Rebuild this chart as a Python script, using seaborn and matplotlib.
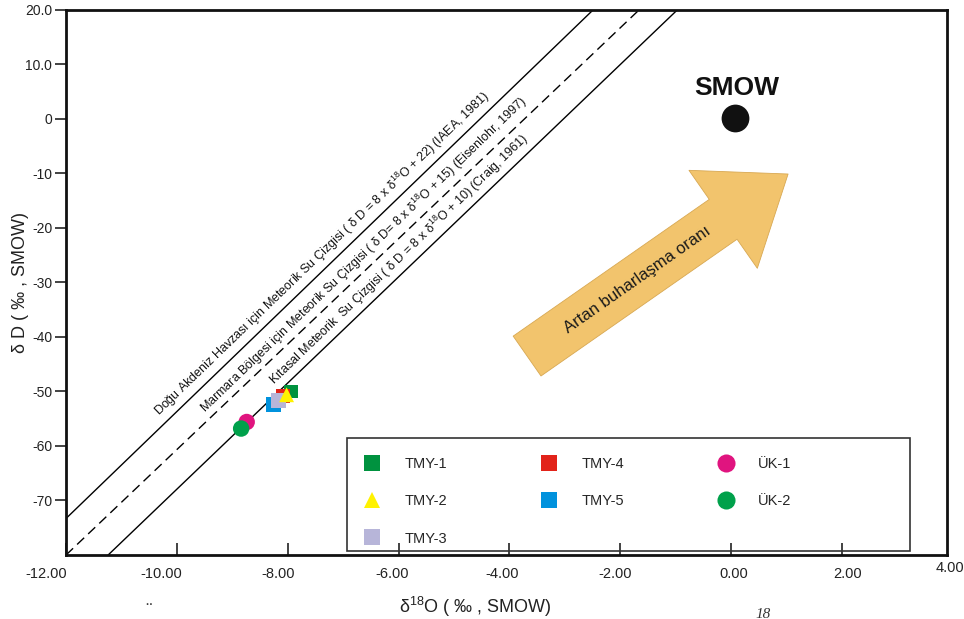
import numpy as np
import pandas as pd
import matplotlib
matplotlib.use("Agg")
import matplotlib.pyplot as plt
from matplotlib.patches import FancyArrowPatch, Rectangle
from matplotlib.transforms import ScaledTranslation
import seaborn as sns

# Örnekler (δ18O, δD)
ornekler = ["TMY-1", "TMY-2", "TMY-3", "TMY-4", "TMY-5", "ÜK-1", "ÜK-2"]
d18o = [-7.94, -8.02, -8.16, -8.08, -8.25, -8.74, -8.84]
dd = [-50.0, -50.6, -51.7, -50.8, -52.4, -55.6, -56.8]
renkler = ["#00923f", "#fff200", "#b7b5d9", "#e2231a", "#0092dd", "#e0147f", "#00a14b"]
isaretler = ["s", "^", "s", "s", "s", "o", "o"]
boyutlar = [100, 115, 115, 100, 115, 140, 140]
cizim_sirasi = ["ÜK-1", "ÜK-2", "TMY-1", "TMY-4", "TMY-5", "TMY-3", "TMY-2"]

smow_x = [0.08]
smow_y = [0.2]

# Meteorik su çizgileri (uç noktalar)
akdeniz_x = [-12.0, -2.49]
akdeniz_y = [-73.3, 20.0]
marmara_x = [-12.0, -1.66]
marmara_y = [-80.0, 20.0]
kitasal_x = [-11.24, -0.97]
kitasal_y = [-80.0, 20.0]

x_ticks = [-12, -10, -8, -6, -4, -2, 0, 2]
x_tick_labels = ["-12.00", "-10.00", "-8.00", "-6.00", "-4.00", "-2.00", "0.00", "2.00"]
y_ticks = [20, 10, 0, -10, -20, -30, -40, -50, -60, -70]
y_tick_labels = ["20.0", "10.0", "0", "-10", "-20", "-30", "-40", "-50", "-60", "-70"]

sns.set_theme(style="white")
plt.rcParams["font.family"] = ["Liberation Sans", "DejaVu Sans"]
plt.rcParams["mathtext.fontset"] = "custom"
plt.rcParams["mathtext.rm"] = "Liberation Sans"
plt.rcParams["mathtext.it"] = "Liberation Sans:italic"
plt.rcParams["mathtext.bf"] = "Liberation Sans:bold"
dar = ["Liberation Sans Narrow", "Liberation Sans", "DejaVu Sans"]

fig = plt.figure(figsize=(9.64, 6.19), dpi=100)
ax = fig.add_axes([0.0685, 0.1034, 0.914, 0.8805])

# Çizgiler
sns.lineplot(x=akdeniz_x, y=akdeniz_y, color="black", linewidth=1.0, ax=ax, legend=False)
sns.lineplot(x=marmara_x, y=marmara_y, color="black", linewidth=1.0, linestyle=(0, (7, 4)), ax=ax, legend=False)
sns.lineplot(x=kitasal_x, y=kitasal_y, color="black", linewidth=1.0, ax=ax, legend=False)

# Çizgi etiketleri
etiketler = [
    ("Doğu Akdeniz Havzası için Meteorik Su Çizgisi ( δ D = 8 x δ$^{18}$O + 22) (IAEA, 1981)", akdeniz_x, akdeniz_y, -7.22),
    ("Marmara Bölgesi için Meteorik Su Çizgisi ( δ D= 8 x δ$^{18}$O + 15) (Eisenlohr, 1997)", marmara_x, marmara_y, -6.47),
    ("Kıtasal Meteorik  Su Çizgisi ( δ D = 8 x δ$^{18}$O + 10) (Craig, 1961)", kitasal_x, kitasal_y, -5.83),
]
for metin, lx, ly, xm in etiketler:
    ym = np.interp(xm, lx, ly)
    ax.annotate(metin, xy=(xm, ym), xytext=(-1.6, 1.6), textcoords="offset points",
                rotation=44, rotation_mode="anchor", ha="center", va="bottom",
                fontsize=9, color="#151515")

# Buharlaşma oku
ok = FancyArrowPatch((-3.68, -43.5), (1.03, -10.1),
                     arrowstyle="simple,head_length=57,head_width=86,tail_width=35",
                     mutation_scale=1, shrinkA=0, shrinkB=0,
                     facecolor="#f2c46d", edgecolor="#d8a852", linewidth=0.6, zorder=2)
ax.add_patch(ok)
ax.text(-1.69, -29.4, "Artan buharlaşma oranı", rotation=35, rotation_mode="anchor",
        ha="center", va="center", fontsize=12, color="#1a1a1a", zorder=3)

# SMOW
sns.scatterplot(x=smow_x, y=smow_y, color="#111111", s=400, linewidth=0, ax=ax, legend=False, zorder=4)
ax.text(0.11, 5.7, "SMOW", ha="center", va="center", fontsize=19, fontweight="bold", color="#111111")

# Örnek noktaları
df = pd.DataFrame({"Örnek": ornekler, "d18O": d18o, "dD": dd})
df = df.set_index("Örnek").loc[cizim_sirasi].reset_index()
sns.scatterplot(data=df, x="d18O", y="dD", hue="Örnek", style="Örnek", size="Örnek",
                hue_order=ornekler, style_order=ornekler, size_order=ornekler,
                palette=dict(zip(ornekler, renkler)), markers=dict(zip(ornekler, isaretler)),
                sizes=dict(zip(ornekler, boyutlar)), linewidth=0, alpha=1, ax=ax, zorder=5)

handles, labels = ax.get_legend_handles_labels()
ax.get_legend().remove()
ax.legend(handles, labels, ncol=3, loc="upper left", bbox_to_anchor=(0.336, 0.180),
          frameon=False, borderpad=0, borderaxespad=0, fontsize=10.5,
          handlelength=1.4, handletextpad=1.5, columnspacing=6.3, labelspacing=1.6,
          markerscale=1.1)
ax.add_patch(Rectangle((0.319, 0.007), 0.639, 0.207, transform=ax.transAxes,
                       fill=False, edgecolor="#333333", linewidth=1.2, zorder=6))

# Eksenler
ax.set_xlim(-12, 3.9)
ax.set_ylim(-80, 20)
ax.set_xticks(x_ticks)
ax.set_xticklabels(x_tick_labels, fontsize=10.5, family=dar)
ax.set_yticks(y_ticks)
ax.set_yticklabels(y_tick_labels, fontsize=10)
ax.tick_params(axis="x", direction="in", length=9, width=1.2, pad=9, colors="#222222", bottom=True)
ax.tick_params(axis="y", direction="out", length=8, width=1.2, pad=2, colors="#222222", left=True)
for sp in ax.spines.values():
    sp.set_linewidth(2.0)
    sp.set_color("#111111")

# orijinalde etiketler çentiklerin biraz solunda duruyor
kaydirma = [-20, -16, -10, -6, -7, -5, 3, 6]
for lbl, dx in zip(ax.get_xticklabels(), kaydirma):
    lbl.set_transform(lbl.get_transform() + ScaledTranslation(dx / 100, 0, fig.dpi_scale_trans))

ax.text(1.003, -0.024, "4.00", transform=ax.transAxes, ha="center", va="center",
        fontsize=10.5, family=dar, color="#222222")

ax.set_xlabel("δ$^{18}$O ( ‰ , SMOW)", fontsize=13, family=dar, color="#222222")
ax.xaxis.set_label_coords(0.464, -0.073)
ax.set_ylabel("δ D ( ‰ , SMOW)", fontsize=13, color="#222222")
ax.yaxis.set_label_coords(-0.042, 0.5)

# Alt kenardaki kesik metin parçaları
fig.text(145 / 964, 0.006, "¨", fontsize=14, family="Liberation Serif", color="#333333")
fig.text(755 / 964, 0.018, "18", fontsize=11, family="Liberation Serif", style="italic",
         va="top", color="#333333")

fig.savefig("out.png", dpi=100)
